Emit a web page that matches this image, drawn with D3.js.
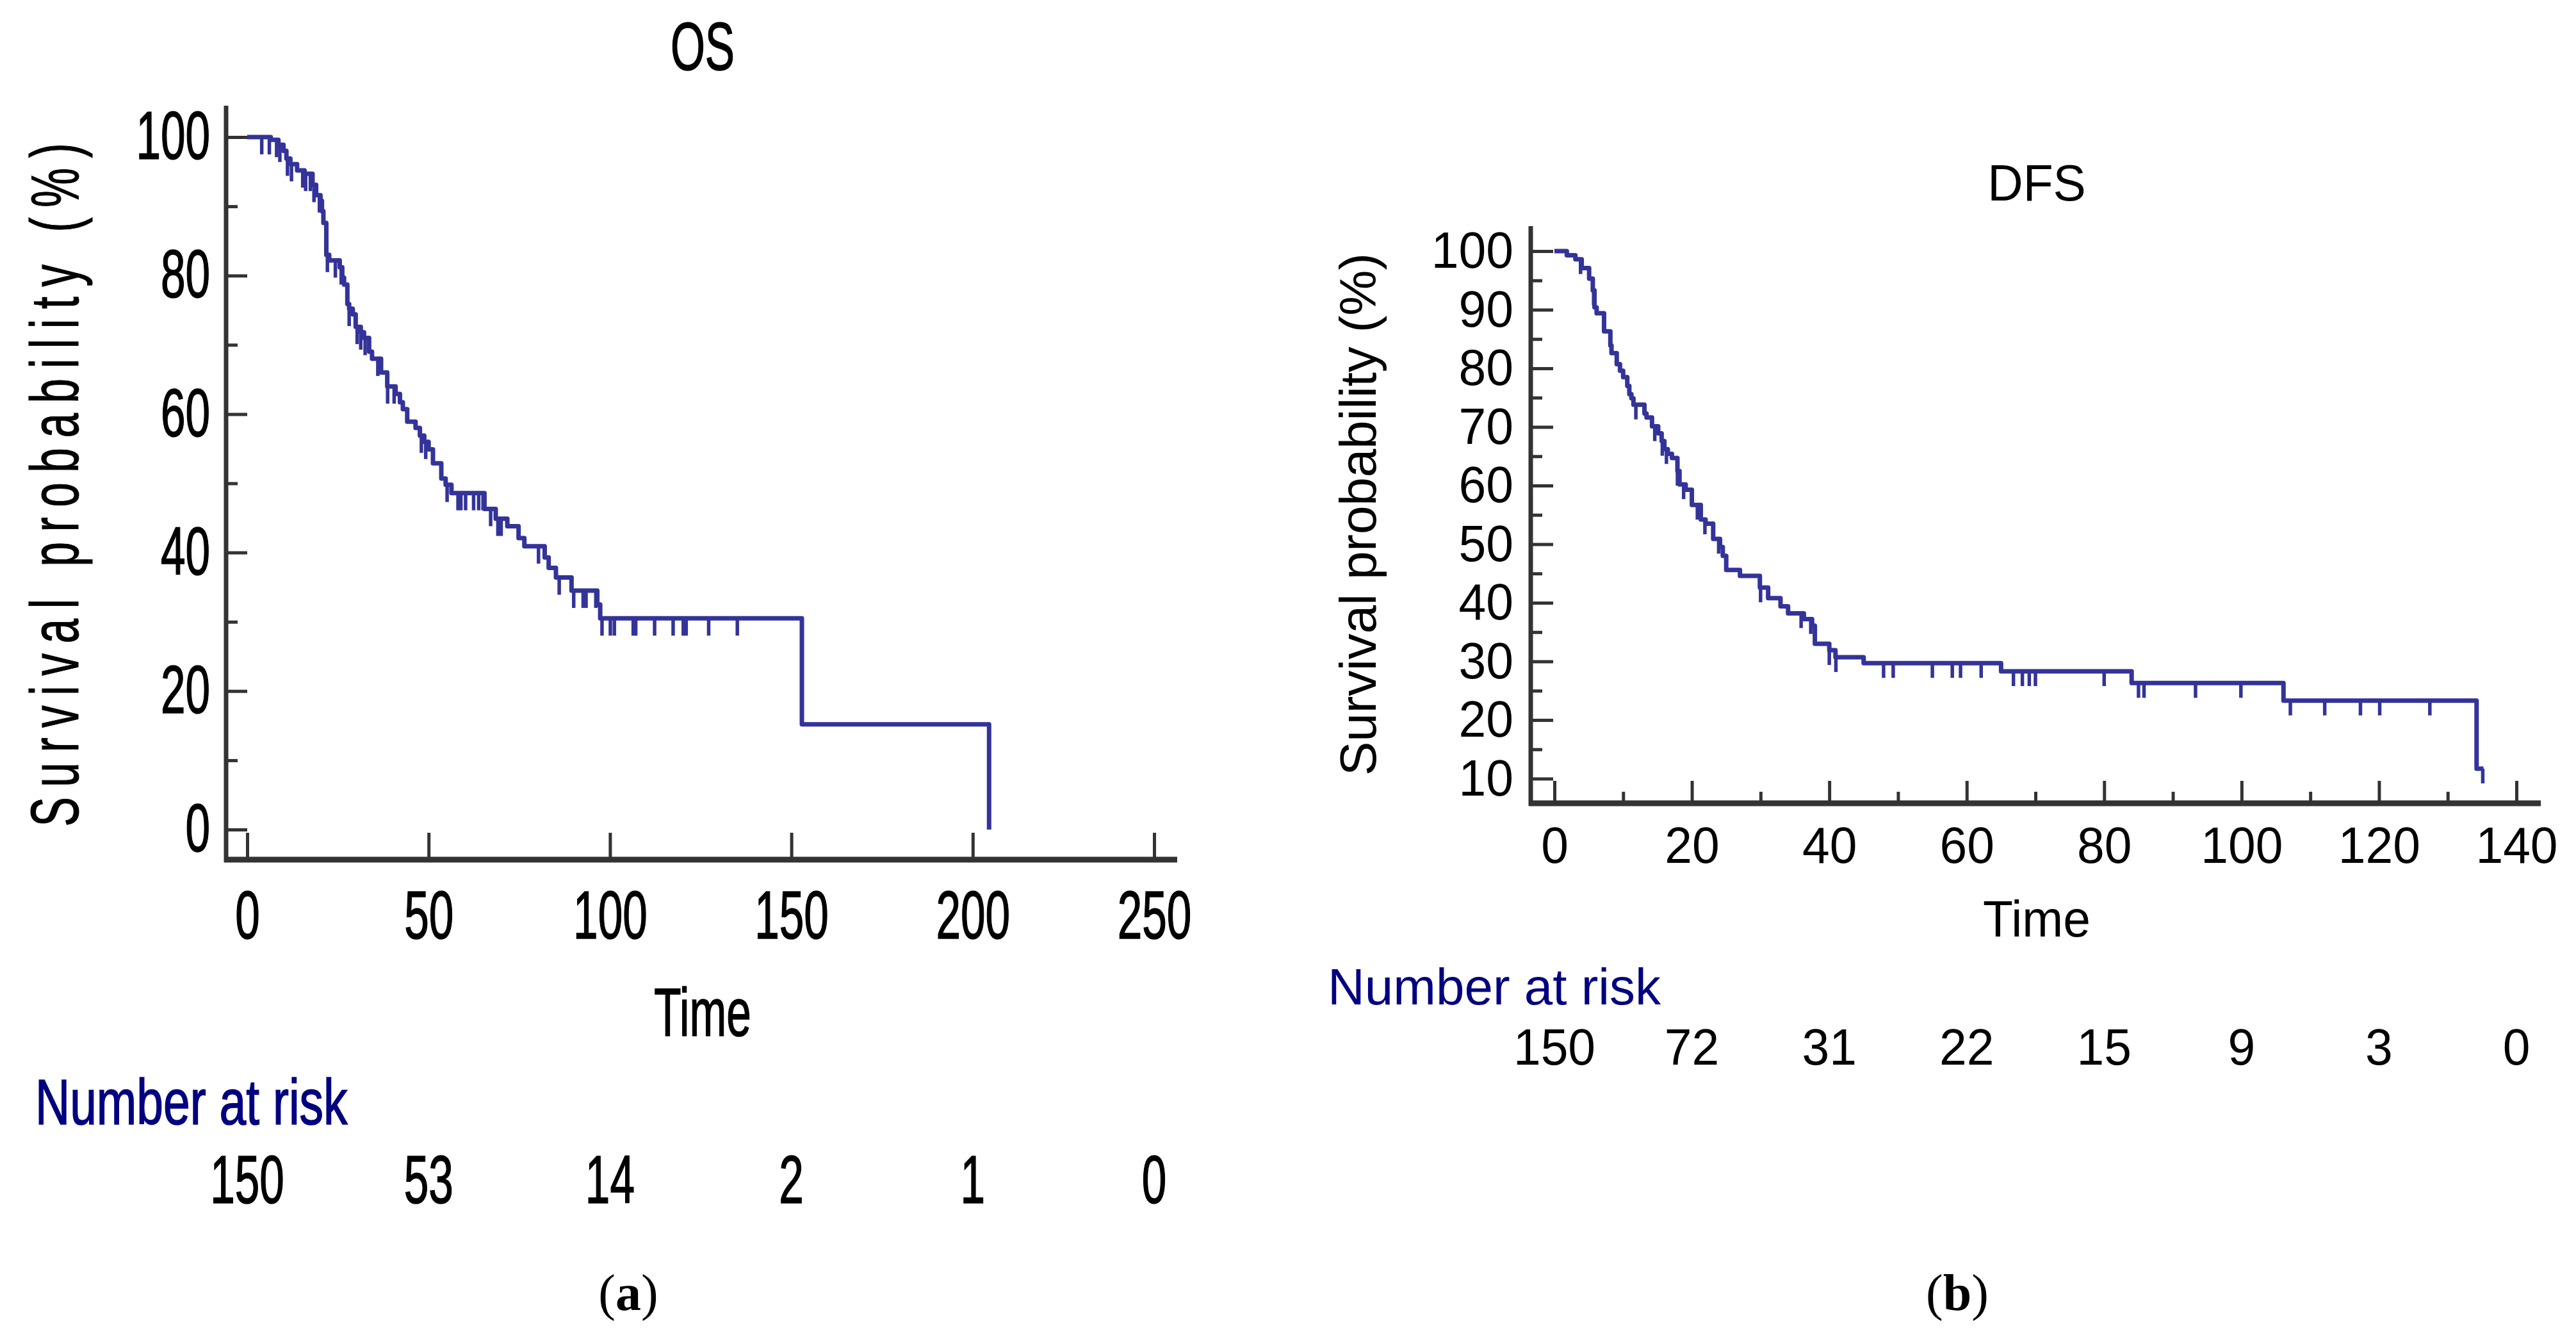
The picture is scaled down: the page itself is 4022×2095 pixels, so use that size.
<!DOCTYPE html>
<html>
<head>
<meta charset="utf-8">
<script src="https://cdn.jsdelivr.net/npm/d3@7"></script>
<style>
  body { margin: 0; background: #fff; }
  text { font-family: "Liberation Sans", Arial, sans-serif; }
</style>
</head>
<body>
<svg id="chart"></svg>
<script>
// ---- data ----
// OS: [time, survival %] at each step
const osSteps = [[0,100],[6.5,99.6],[8.6,98.9],[10.0,98.0],[10.8,96.9],[11.9,96.1],[13.75,95.2],[15.8,94.7],
  [18.0,93.1],[19.0,91.6],[20.2,90.8],[20.6,89.3],[21.0,87.6],[21.8,83.0],[22.6,82.2],[25.5,81.2],[26.2,79.7],
  [26.7,78.7],[27.6,75.9],[28.1,75.2],[29.1,74.4],[29.9,72.6],[31.3,71.8],[32.2,71.0],[33.6,69.0],[34.4,68.0],
  [36.9,66.0],[38.6,64.0],[40.9,62.9],[42.1,61.7],[42.9,60.7],[44.1,58.9],[46.4,58.0],[47.6,56.9],[48.8,56.0],
  [50.0,54.9],[51.2,52.9],[53.5,50.7],[54.7,49.8],[56.3,48.6],[65.4,46.3],[68.5,44.9],[71.7,43.8],[74.8,42.1],
  [76.4,40.9],[82.0,39.3],[83.1,37.8],[85.1,36.4],[89.4,34.5],[96.5,32.5],[97.3,30.5],[152.9,15.2],[204.5,0]];
const osCensor = [4.0,6.1,8.1,9.0,11.1,12.2,15.3,16.1,17.4,18.4,19.9,22.1,24.3,25.9,28.1,30.3,31.3,32.5,36.0,
  38.7,40.5,48.0,49.2,55.1,58.1,58.9,60.2,62.4,63.8,65.0,67.1,69.1,70.0,80.3,86.0,90.0,92.6,93.4,96.1,
  97.8,100.1,101.2,106.4,107.1,112.3,117.4,120.2,121.0,127.2,135.1];
const osXTicks = [0,50,100,150,200,250];
const osYTicks = [0,20,40,60,80,100];
const osYMinor = [10,30,50,70,90];
const osRisk = [150,53,14,2,1,0];

// DFS
const dfsSteps = [[0,100],[1.8,99.3],[3.05,98.6],[3.97,97.1],[5.05,95.3],[5.58,93.3],[5.83,90.4],[6.14,89.4],
  [7.22,86.3],[8.14,83.9],[8.3,82.6],[9.07,80.7],[9.54,79.6],[10.0,78.5],[10.6,77.0],[10.9,75.6],[11.2,74.9],
  [11.5,73.8],[13.1,72.3],[13.4,71.6],[14.2,70.1],[15.1,68.9],[15.6,67.6],[16.0,66.2],[16.5,65.4],[17.1,64.7],
  [17.9,62.5],[18.2,60.2],[19.1,59.3],[20.0,56.7],[21.3,54.2],[22.0,53.5],[23.1,50.9],[24.1,49.5],[24.5,48.0],
  [25.0,45.6],[27.0,44.6],[29.9,42.6],[31.1,40.8],[32.9,39.4],[34.0,38.2],[36.3,37.2],[37.5,36.1],[37.9,33.0],
  [40.0,31.9],[40.9,30.7],[45.0,29.7],[65.0,28.3],[84.0,26.3],[106.1,23.3],[134.2,11.7],[135.2,11.7]];
const dfsCensor = [3.8,5.7,11.85,14.6,15.7,16.3,17.9,18.8,20.8,21.9,23.9,30.0,35.9,37.3,40.0,40.96,47.9,49.3,
  55.0,57.9,59.1,62.1,66.8,68.1,69.1,70.0,80.0,85.0,85.8,93.3,99.9,107.1,112.1,117.3,120.1,127.4,135.1];
const dfsXTicks = [0,20,40,60,80,100,120,140];
const dfsXMinor = [10,30,50,70,90,110,130];
const dfsYTicks = [10,20,30,40,50,60,70,80,90,100];
const dfsYMinor = [15,25,35,45,55,65,75,85,95];
const dfsRisk = [150,72,31,22,15,9,3,0];

const curveColor = "#333399", axisColor = "#333333", navy = "#000080";

const svg = d3.select("#chart").attr("width", 4022).attr("height", 2095);

// condensed text: scale x, thicken strokes a little
function label(g, x, y, str, size, sx, anchor, fill, thick) {
  const t = g.append("text")
    .attr("transform", "translate(" + x + "," + y + ") scale(" + sx + ",1)")
    .attr("text-anchor", anchor)
    .style("font-size", size + "px")
    .attr("fill", fill || "#000")
    .text(str);
  if (thick) t.attr("stroke", fill || "#000").attr("stroke-width", thick);
  return t;
}

function stepValue(steps, t) {
  let v = steps[0][1];
  steps.forEach(function (d) { if (d[0] <= t) v = d[1]; });
  return v;
}

// one Kaplan-Meier panel
function panel(o) {
  const g = svg.append("g");
  const x = d3.scaleLinear().domain(o.xDomain).range(o.xRange);
  const y = d3.scaleLinear().domain(o.yDomain).range(o.yRange);

  // y axis: major + minor ticks, inward
  const yAxis = g.append("g").attr("transform", "translate(" + o.axisX + ",0)")
    .call(d3.axisLeft(y).tickValues(o.yTicks).tickSizeInner(-o.majorLen).tickSizeOuter(0));
  yAxis.select(".domain").remove();
  yAxis.selectAll("line").attr("stroke", axisColor).attr("stroke-width", 5);
  yAxis.selectAll("text")
    .attr("x", -o.yPad / o.sx)
    .attr("dy", "0.32em")
    .attr("transform", "scale(" + o.sx + ",1)")
    .style("font-size", o.font + "px")
    .style("font-family", '"Liberation Sans", Arial, sans-serif')
    .attr("fill", "#000")
    .attr("stroke", o.thick ? "#000" : null).attr("stroke-width", o.thick || null);

  const yMinor = g.append("g").attr("transform", "translate(" + o.axisX + ",0)")
    .call(d3.axisLeft(y).tickValues(o.yMinor).tickSizeInner(-o.minorLen).tickSizeOuter(0).tickFormat(""));
  yMinor.select(".domain").remove();
  yMinor.selectAll("line").attr("stroke", axisColor).attr("stroke-width", 5);

  // x axis, ticks pointing up
  const xAxis = g.append("g").attr("transform", "translate(0," + o.axisY + ")")
    .call(d3.axisBottom(x).tickValues(o.xTicks).tickSizeInner(-o.xMajorLen).tickSizeOuter(0).tickPadding(o.xPad));
  xAxis.select(".domain").remove();
  xAxis.selectAll("line").attr("stroke", axisColor).attr("stroke-width", 5);
  xAxis.selectAll("text")
    .attr("transform", "scale(" + o.sx + ",1)")
    .style("font-size", o.font + "px")
    .style("font-family", '"Liberation Sans", Arial, sans-serif')
    .attr("fill", "#000")
    .attr("stroke", o.thick ? "#000" : null).attr("stroke-width", o.thick || null);

  if (o.xMinor) {
    const xMinor = g.append("g").attr("transform", "translate(0," + o.axisY + ")")
      .call(d3.axisBottom(x).tickValues(o.xMinor).tickSizeInner(-o.minorLen).tickSizeOuter(0).tickFormat(""));
    xMinor.select(".domain").remove();
    xMinor.selectAll("line").attr("stroke", axisColor).attr("stroke-width", 5);
  }

  // axis lines
  g.append("line").attr("x1", o.axisX).attr("x2", o.axisX).attr("y1", o.axisTop).attr("y2", o.axisY + 4)
    .attr("stroke", axisColor).attr("stroke-width", 7);
  g.append("line").attr("x1", o.axisX - 3).attr("x2", o.axisRight).attr("y1", o.axisY).attr("y2", o.axisY)
    .attr("stroke", axisColor).attr("stroke-width", 9);

  // survival curve
  const line = d3.line().x(function (d) { return x(d[0]); }).y(function (d) { return y(d[1]); })
    .curve(d3.curveStepAfter);
  g.append("path").datum(o.steps).attr("d", line)
    .attr("fill", "none").attr("stroke", curveColor).attr("stroke-width", 7)
    .attr("stroke-linejoin", "round");

  // censor marks
  g.selectAll(".censor").data(o.censor).enter().append("line")
    .attr("class", "censor")
    .attr("x1", function (d) { return x(d); }).attr("x2", function (d) { return x(d); })
    .attr("y1", function (d) { return y(stepValue(o.steps, d)); })
    .attr("y2", function (d) { return y(stepValue(o.steps, d)) + o.censorLen; })
    .attr("stroke", curveColor).attr("stroke-width", 5.5);

  // titles
  label(g, o.titleX, o.titleY, o.title, o.font, o.sx, "middle", "#000", o.thick);
  label(g, o.titleX, o.timeY, "Time", o.font, o.sx, "middle", "#000", o.thick);

  // y label
  const yl = g.append("text")
    .attr("transform", "translate(" + o.yLabX + "," + o.yLabY + ") rotate(-90) scale(" + o.yLabSx + ",1)")
    .attr("text-anchor", "middle")
    .style("font-size", o.yLabFont + "px")
    .text(o.yLabText);
  if (o.yLabLen) yl.attr("textLength", o.yLabLen / o.yLabSx).attr("lengthAdjust", "spacing");
  if (o.thick) yl.attr("stroke", "#000").attr("stroke-width", o.thick * 0.7);

  // number at risk
  label(g, o.riskLabX, o.riskLabY, "Number at risk", o.riskLabFont, o.riskLabSx, "start", navy, o.thick);
  g.selectAll(".risk").data(o.risk).enter().append("text")
    .attr("class", "risk")
    .attr("transform", function (d, i) {
      return "translate(" + x(o.xTicks[i]) + "," + o.riskY + ") scale(" + o.sx + ",1)";
    })
    .attr("text-anchor", "middle")
    .style("font-size", o.font + "px")
    .attr("stroke", o.thick ? "#000" : null).attr("stroke-width", o.thick || null)
    .text(function (d) { return d; });

  // panel letter
  const pl = g.append("text").attr("x", o.letterX).attr("y", 2045).attr("text-anchor", "middle")
    .style("font-family", '"Liberation Serif", "Times New Roman", serif').style("font-size", "80px");
  pl.append("tspan").text("(");
  pl.append("tspan").style("font-weight", "bold").style("font-family", '"Liberation Serif", serif').text(o.letter);
  pl.append("tspan").text(")");
}

panel({
  steps: osSteps, censor: osCensor, censorLen: 27,
  xDomain: [0, 250], xRange: [386, 1802], yDomain: [0, 100], yRange: [1295, 214],
  xTicks: osXTicks, yTicks: osYTicks, yMinor: osYMinor,
  axisX: 353, axisY: 1342, axisTop: 165, axisRight: 1838,
  majorLen: 33, minorLen: 18, xMajorLen: 42,
  font: 105, sx: 0.66, yPad: 25, xPad: 48, thick: 1.6,
  title: "OS", titleX: 1097, titleY: 109, timeY: 1617,
  yLabText: "Survival probability (%)", yLabX: 122, yLabY: 757, yLabFont: 105, yLabSx: 0.66, yLabLen: 1067,
  riskLabX: 55, riskLabY: 1755, riskLabFont: 100, riskLabSx: 0.75, risk: osRisk, riskY: 1878,
  letter: "a", letterX: 981
});

panel({
  steps: dfsSteps, censor: dfsCensor, censorLen: 23,
  xDomain: [0, 140], xRange: [2427, 3929], yDomain: [10, 100], yRange: [1215.5, 392],
  xTicks: dfsXTicks, xMinor: dfsXMinor, yTicks: dfsYTicks, yMinor: dfsYMinor,
  axisX: 2390, axisY: 1254, axisTop: 353, axisRight: 3967,
  majorLen: 35, minorLen: 18, xMajorLen: 35,
  font: 80, sx: 0.96, yPad: 27, xPad: 36, thick: 0,
  title: "DFS", titleX: 3180, titleY: 313, timeY: 1462,
  yLabText: "Survival probability (%)", yLabX: 2148, yLabY: 803, yLabFont: 80, yLabSx: 1, yLabLen: 816,
  riskLabX: 2073, riskLabY: 1568, riskLabFont: 80, riskLabSx: 1, risk: dfsRisk, riskY: 1662,
  letter: "b", letterX: 3056
});
</script>
</body>
</html>
